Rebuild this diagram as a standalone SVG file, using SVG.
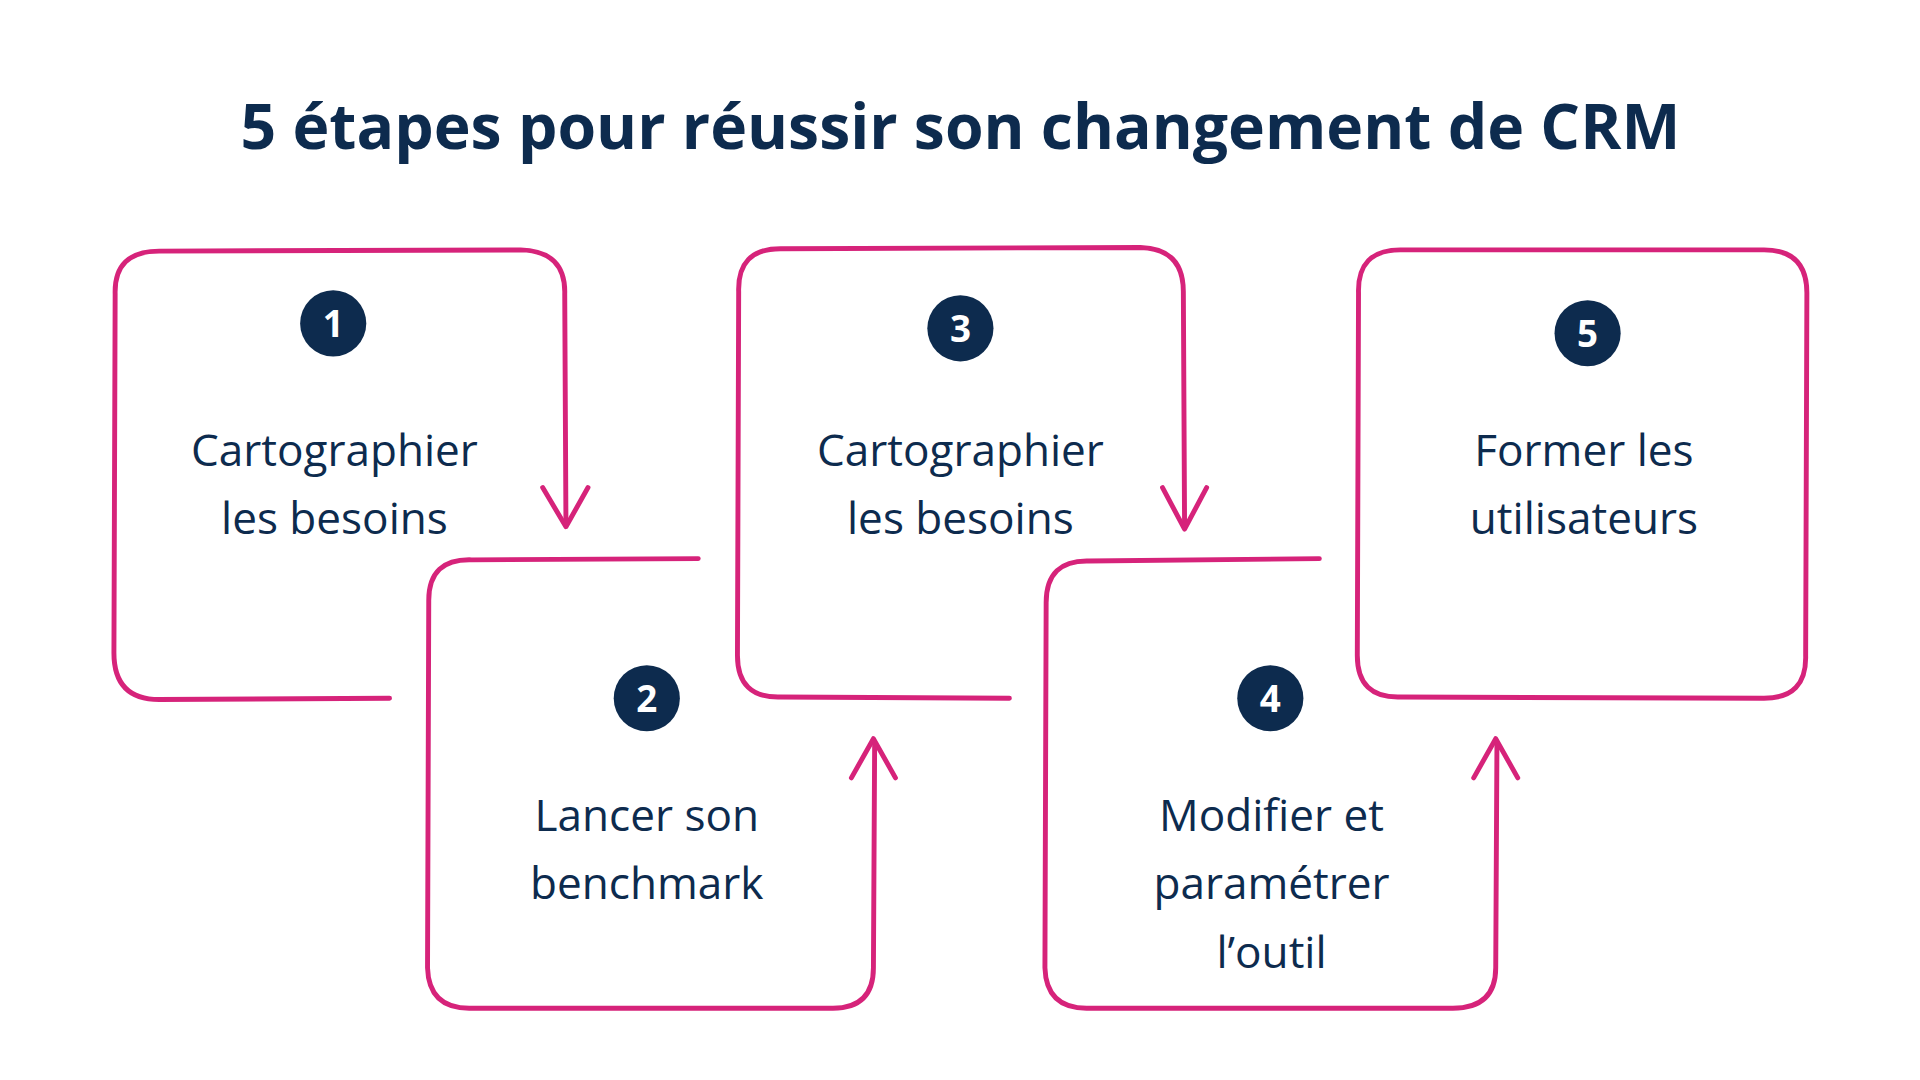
<svg xmlns="http://www.w3.org/2000/svg" width="1920" height="1080" viewBox="0 0 1920 1080">
<style>
.b{fill:none;stroke:#d6237a;stroke-width:4;stroke-linecap:round;stroke-linejoin:round}
.c{fill:#0d2b4e}
.n{fill:#fff;font-family:"Open Sans",sans-serif;font-weight:700;font-size:30px;text-anchor:middle}
.t{fill:#0d2b4e;font-family:"Open Sans",sans-serif;font-size:36px;text-anchor:middle}
.h{fill:#0d2b4e;font-family:"Open Sans",sans-serif;font-weight:700;font-size:51px;text-anchor:middle}
</style>
<rect width="1920" height="1080" fill="#fff"/>
<g transform="scale(1.225)">
<text class="h" x="784" y="122">5 étapes pour réussir son changement de CRM</text>
<g id="connectors">
<path class="b" d="M443,398 L462,430 L480,398"/>
<path class="b" d="M695,635 L713,603 L731,635"/>
<path class="b" d="M949,398 L967,432 L985,398"/>
<path class="b" d="M1203,635 L1221,603 L1239,635"/>
</g>
<g id="n1">
<path class="b" d="M318,570 L130,571 Q93,571 93,533 L94,240 Q93,205 130,205 L425,204 Q462,205 461,240 L462,428"/>
<circle class="c" cx="272" cy="264" r="27"/><text class="n" x="272" y="275">1</text>
<text class="t" x="273" y="380">Cartographier</text><text class="t" x="273" y="436">les besoins</text>
</g>
<g id="n2">
<path class="b" d="M570,456 L385,457 Q350,456 350,490 L349,790 Q350,824 385,823 L680,823 Q713,823 713,790 L714,606"/>
<circle class="c" cx="528" cy="570" r="27"/><text class="n" x="528" y="581">2</text>
<text class="t" x="528" y="678">Lancer son</text><text class="t" x="528" y="734">benchmark</text>
</g>
<g id="n3">
<path class="b" d="M824,570 L637,569 Q602,570 602,535 L603,238 Q602,203 637,203 L931,202 Q966,203 966,238 L967,430"/>
<circle class="c" cx="784" cy="268" r="27"/><text class="n" x="784" y="279">3</text>
<text class="t" x="784" y="380">Cartographier</text><text class="t" x="784" y="436">les besoins</text>
</g>
<g id="n4">
<path class="b" d="M1077,456 L889,458 Q854,457 854,492 L853,790 Q854,824 889,823 L1186,823 Q1221,823 1221,790 L1222,606"/>
<circle class="c" cx="1037" cy="570" r="27"/><text class="n" x="1037" y="581">4</text>
<text class="t" x="1038" y="678">Modifier et</text><text class="t" x="1038" y="734">paramétrer</text><text class="t" x="1038" y="790">l’outil</text>
</g>
<g id="n5">
<path class="b" d="M1143,204 L1440,204 Q1475,204 1475,239 L1474,535 Q1475,570 1440,570 L1143,569 Q1108,570 1108,535 L1109,239 Q1108,204 1143,204 Z"/>
<circle class="c" cx="1296" cy="272" r="27"/><text class="n" x="1296" y="283">5</text>
<text class="t" x="1293" y="380">Former les</text><text class="t" x="1293" y="436">utilisateurs</text>
</g>
</g>
</svg>
